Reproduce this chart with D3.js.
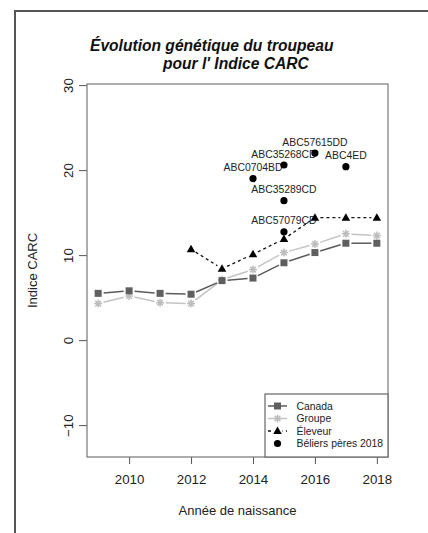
<!DOCTYPE html>
<html>
<head>
<meta charset="utf-8">
<script src="https://cdn.jsdelivr.net/npm/d3@7"></script>
<style>
  body { margin: 0; background: #fff; }
  text { font-family: "Liberation Sans", Arial, sans-serif; }
</style>
</head>
<body>
<div id="chart"></div>
<script>
// Data
var YEARS = [2009, 2010, 2011, 2012, 2013, 2014, 2015, 2016, 2017, 2018];
var CANADA = [5.5, 5.8, 5.5, 5.4, 7.0, 7.3, 9.1, 10.3, 11.4, 11.4];
var GROUPE = [4.3, 5.2, 4.4, 4.3, 7.1, 8.3, 10.3, 11.3, 12.5, 12.3];
var ELEVEUR_YEARS = [2012, 2013, 2014, 2015, 2016, 2017, 2018];
var ELEVEUR = [10.7, 8.4, 10.1, 11.9, 14.4, 14.4, 14.4];
var BELIER_YEARS = [2014, 2015, 2015, 2015, 2016, 2017];
var BELIER = [19.0, 20.6, 16.4, 12.75, 22.0, 20.4];
var BELIER_NAMES = ["ABC0704BD", "ABC35268CD", "ABC35289CD", "ABC57079CD", "ABC57615DD", "ABC4ED"];
var X_TICKS = [2010, 2012, 2014, 2016, 2018];
var Y_TICKS = [-10, 0, 10, 20, 30];
var LEGEND = ["Canada", "Groupe", "Éleveur", "Béliers pères 2018"];

const WIDTH = 428;
const HEIGHT = 533;
const PLOT = { left: 87, right: 388, top: 84, bottom: 457 };

var svg = d3.select("#chart")
  .append("svg")
  .attr("width", WIDTH)
  .attr("height", HEIGHT);

// Outer frame (only left and top edges visible)
svg.append("rect")
  .attr("x", 15)
  .attr("y", 11)
  .attr("width", 500)
  .attr("height", 600)
  .attr("fill", "none")
  .attr("stroke", "#555")
  .attr("stroke-width", 2);

var x = d3.scaleLinear().domain([2008.64, 2018.36]).range([PLOT.left, PLOT.right]);
var y = d3.scaleLinear().domain([-13.75, 30.13]).range([PLOT.bottom, PLOT.top]);

// Title
var title = svg.append("text")
  .attr("font-size", 15.6)
  .attr("font-weight", "bold")
  .attr("font-style", "italic")
  .attr("fill", "#111");
title.append("tspan").attr("x", 90).attr("y", 50.5).text("Évolution génétique du troupeau");
title.append("tspan").attr("x", 163).attr("y", 68.5).text("pour l' Indice CARC");

// Axes
var xAxis = svg.append("g")
  .attr("transform", "translate(0," + PLOT.bottom + ")")
  .call(d3.axisBottom(x).tickValues(X_TICKS).tickFormat(d3.format("d")).tickSize(7).tickPadding(11));

var yAxis = svg.append("g")
  .attr("transform", "translate(" + PLOT.left + ",0)")
  .call(d3.axisLeft(y).tickValues(Y_TICKS).tickFormat(function(d) { return d < 0 ? "\u2212" + (-d) : d; }).tickSize(8));

[xAxis, yAxis].forEach(function(a) {
  a.select(".domain").remove();
  a.selectAll("line").attr("stroke", "#555");
  a.selectAll("text").attr("font-size", 13.3).attr("fill", "#222")
    .style("font-family", "'Liberation Sans', Arial, sans-serif");
});

yAxis.selectAll(".tick text")
  .attr("text-anchor", "middle")
  .attr("x", 0)
  .attr("dy", 0)
  .attr("transform", "translate(-19,0) rotate(-90) translate(0,4.5)");

// Plot box
svg.append("rect")
  .attr("x", PLOT.left)
  .attr("y", PLOT.top)
  .attr("width", PLOT.right - PLOT.left)
  .attr("height", PLOT.bottom - PLOT.top)
  .attr("fill", "none")
  .attr("stroke", "#777")
  .attr("stroke-width", 1.2);

// Axis titles
svg.append("text")
  .attr("x", (PLOT.left + PLOT.right) / 2)
  .attr("y", 515)
  .attr("text-anchor", "middle")
  .attr("font-size", 13)
  .attr("fill", "#222")
  .text("Année de naissance");

svg.append("text")
  .attr("transform", "translate(37," + ((PLOT.top + PLOT.bottom) / 2) + ") rotate(-90)")
  .attr("text-anchor", "middle")
  .attr("font-size", 13)
  .attr("fill", "#222")
  .text("Indice CARC");

// Lines with gaps around the points (like R type = "b")
function gappedLine(g, xs, ys, color, width, dash) {
  const GAP = 5.5;
  for(var i = 0; i < xs.length - 1; i++) {
    var x1 = x(xs[i]), y1 = y(ys[i]), x2 = x(xs[i + 1]), y2 = y(ys[i + 1]);
    var len = Math.hypot(x2 - x1, y2 - y1);
    if(len <= 2 * GAP) continue;
    var ux = (x2 - x1) / len, uy = (y2 - y1) / len;
    g.append("line")
      .attr("x1", x1 + ux * GAP).attr("y1", y1 + uy * GAP)
      .attr("x2", x2 - ux * GAP).attr("y2", y2 - uy * GAP)
      .attr("stroke", color)
      .attr("stroke-width", width)
      .attr("stroke-dasharray", dash || null);
  }
}

function drawSquare(g, cx, cy, color) {
  g.append("rect").attr("x", cx - 3.5).attr("y", cy - 3.5).attr("width", 7).attr("height", 7).attr("fill", color);
}

function drawTriangle(g, cx, cy) {
  g.append("path")
    .attr("d", d3.symbol().type(d3.symbolTriangle).size(32)())
    .attr("transform", "translate(" + cx + "," + (cy + 0.5) + ")")
    .attr("fill", "#000");
}

function drawStar(g, cx, cy, color) {
  var r = 4;
  var d = "";
  [0, 45, 90, 135].forEach(function(a) {
    var rad = a * Math.PI / 180;
    d += "M" + (cx - r * Math.cos(rad)) + "," + (cy - r * Math.sin(rad)) + "L" + (cx + r * Math.cos(rad)) + "," + (cy + r * Math.sin(rad));
  });
  g.append("path").attr("d", d).attr("stroke", color).attr("stroke-width", 1.5).attr("fill", "none");
}

function drawCircle(g, cx, cy) {
  g.append("circle").attr("cx", cx).attr("cy", cy).attr("r", 3.6).attr("fill", "#000");
}

var marks = svg.append("g");

// Groupe
gappedLine(marks, YEARS, GROUPE, "#c4c4c4", 1.5);
YEARS.forEach(function(d, i) { drawStar(marks, x(d), y(GROUPE[i]), "#bdbdbd"); });

// Canada
gappedLine(marks, YEARS, CANADA, "#5a5a5a", 1.5);
YEARS.forEach(function(d, i) { drawSquare(marks, x(d), y(CANADA[i]), "#5f5f5f"); });

// Eleveur
gappedLine(marks, ELEVEUR_YEARS, ELEVEUR, "#111", 1.3, "3,3");

// Beliers with labels
BELIER_YEARS.forEach(function(d, i) {
  drawCircle(marks, x(d), y(BELIER[i]));
  marks.append("text")
    .attr("x", x(d))
    .attr("y", y(BELIER[i]) - 7.5)
    .attr("text-anchor", "middle")
    .attr("font-size", 10.4)
    .attr("fill", "#222")
    .text(BELIER_NAMES[i]);
});

ELEVEUR_YEARS.forEach(function(d, i) { drawTriangle(marks, x(d), y(ELEVEUR[i])); });

// Legend
const LEG = { x: 265, y: 394, row: 12.5 };
var legend = svg.append("g");
legend.append("rect")
  .attr("x", LEG.x)
  .attr("y", LEG.y)
  .attr("width", PLOT.right - LEG.x)
  .attr("height", PLOT.bottom - LEG.y)
  .attr("fill", "#fff")
  .attr("stroke", "#666")
  .attr("stroke-width", 1.2);

LEGEND.forEach(function(name, i) {
  var cy = LEG.y + 12 + i * LEG.row;
  var cx = 277.5;
  if(i === 0) {
    legend.append("line").attr("x1", 268).attr("x2", 287).attr("y1", cy).attr("y2", cy).attr("stroke", "#5a5a5a").attr("stroke-width", 1.5);
    drawSquare(legend, cx, cy, "#5f5f5f");
  } else if(i === 1) {
    legend.append("line").attr("x1", 268).attr("x2", 287).attr("y1", cy).attr("y2", cy).attr("stroke", "#c4c4c4").attr("stroke-width", 1.5);
    drawStar(legend, cx, cy, "#bdbdbd");
  } else if(i === 2) {
    legend.append("line").attr("x1", 268).attr("x2", 287).attr("y1", cy).attr("y2", cy).attr("stroke", "#111").attr("stroke-width", 1.3).attr("stroke-dasharray", "3,3");
    legend.append("rect").attr("x", cx - 5).attr("y", cy - 5).attr("width", 10).attr("height", 10).attr("fill", "#fff");
    drawTriangle(legend, cx, cy);
  } else {
    drawCircle(legend, cx, cy);
  }
  legend.append("text")
    .attr("x", 296.5)
    .attr("y", cy + 3.6)
    .attr("font-size", 10.4)
    .attr("fill", "#222")
    .text(name);
});
</script>
</body>
</html>
